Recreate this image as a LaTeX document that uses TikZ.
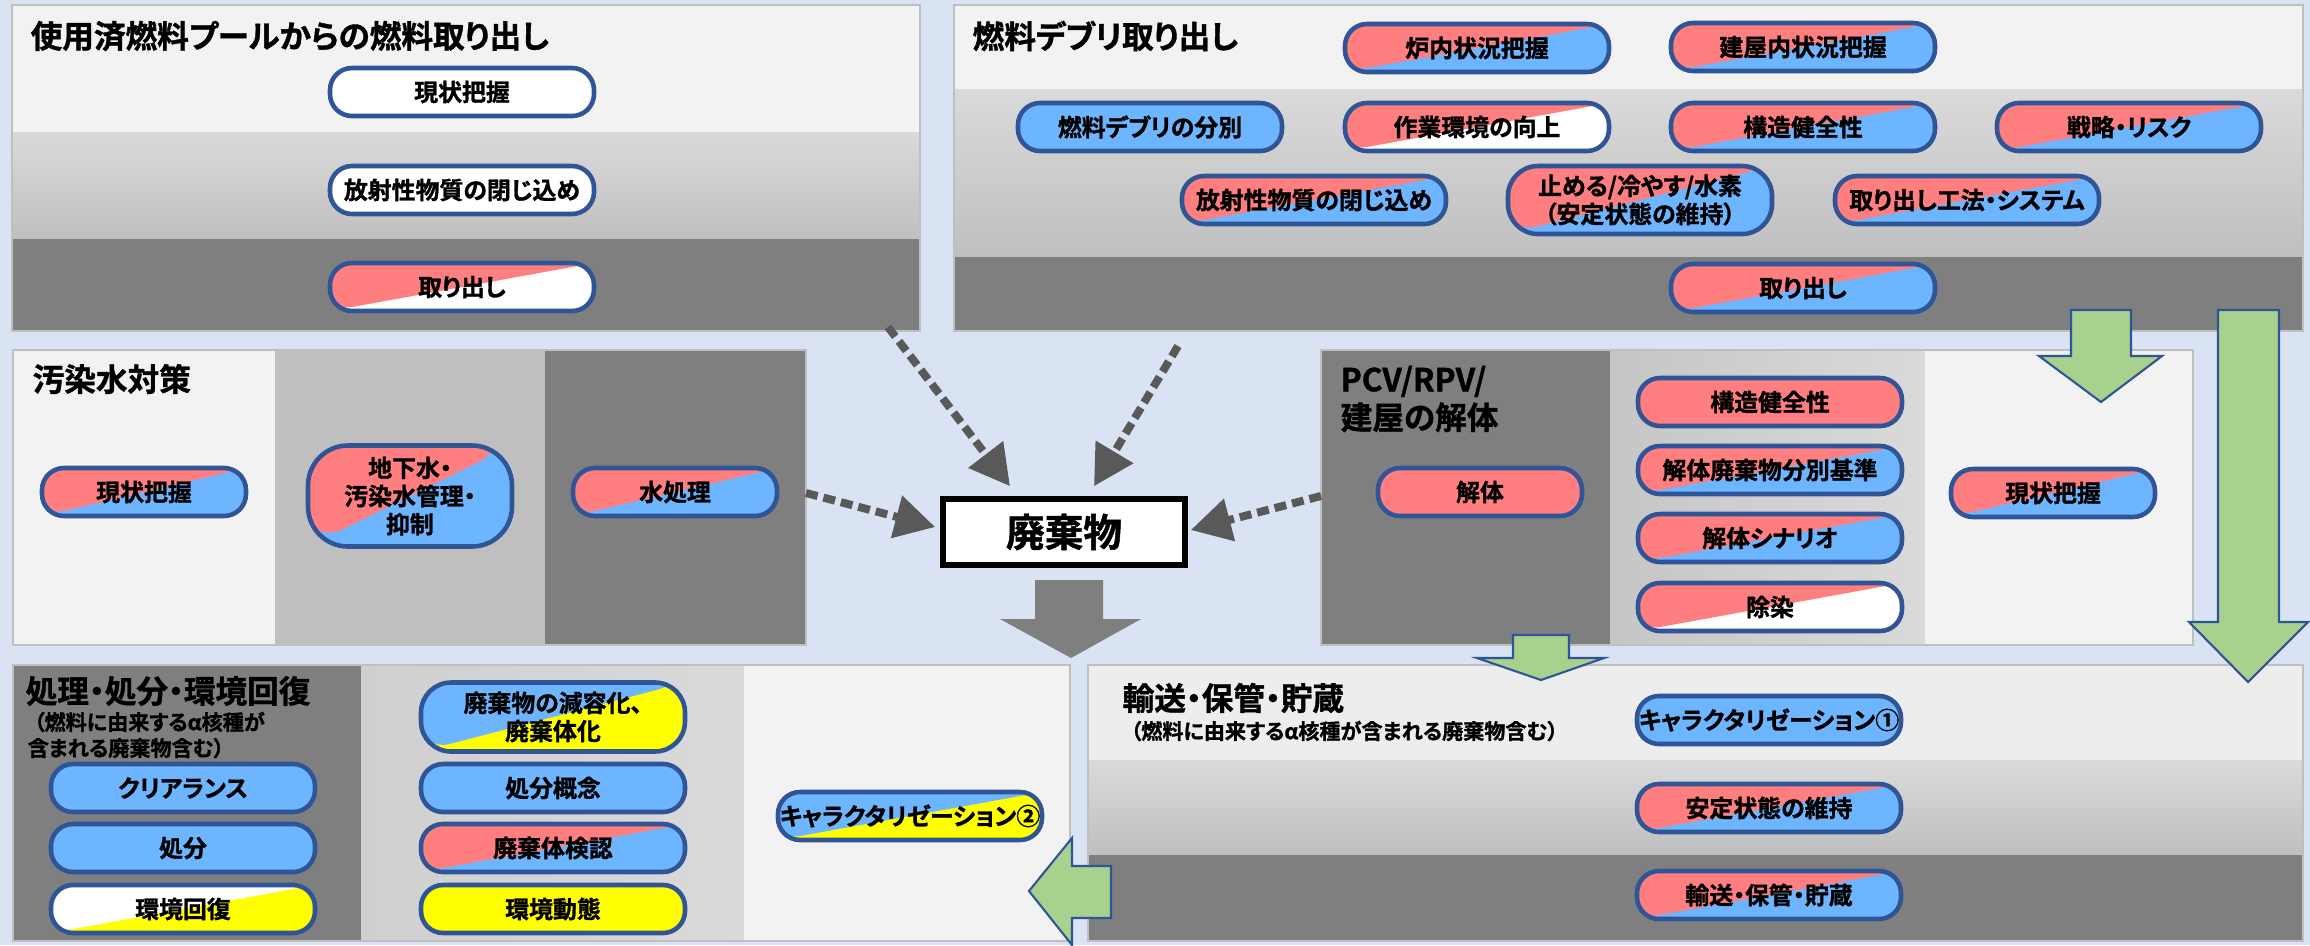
\documentclass[tikz,border=0pt]{standalone}
\usepackage{fontspec}
\setmainfont{Noto Sans CJK JP}[RawFeature=+palt,BoldFont={* Bold},BoldFeatures={FakeBold=1.2}]
\usetikzlibrary{arrows.meta}
\definecolor{bgblue}{HTML}{DAE3F3}
\definecolor{lightband}{HTML}{F2F2F2}
\definecolor{midtop}{HTML}{DADADA}
\definecolor{midbot}{HTML}{BFBFBF}
\definecolor{darkband}{HTML}{7F7F7F}
\definecolor{panelline}{HTML}{BFBFBF}
\definecolor{pinkfill}{HTML}{FF7F80}
\definecolor{bluefill}{HTML}{6EB5FF}
\definecolor{yellowfill}{HTML}{FFFF00}
\definecolor{pilledge}{HTML}{2F5597}
\definecolor{greenfill}{HTML}{A9D18E}
\definecolor{dotgray}{HTML}{595959}
\newcommand{\pilltext}{\fontsize{6.8pt}{8pt}\selectfont\bfseries}
\newcommand{\paneltitle}{\fontsize{9pt}{10.8pt}\selectfont\bfseries}
\newcommand{\panelnote}{\fontsize{6pt}{7.4pt}\selectfont\bfseries}
\tikzset{
	pill/.style={draw=pilledge,line width=1.3pt,rounded corners=2.2mm,minimum width=26.4mm,minimum height=4.8mm,inner sep=0pt,align=center,font=\pilltext},
	narrowpill/.style={pill,minimum width=20.4mm},
	twotone/.style 2 args={path picture={
		\fill[#2] (path picture bounding box.south west) rectangle (path picture bounding box.north east);
		\fill[#1] (path picture bounding box.south west) -- (path picture bounding box.north west) -- (path picture bounding box.north east) -- cycle;}},
	panel/.style={draw=panelline,line width=0.8pt},
	titletext/.style={anchor=west,inner sep=0pt,align=left,font=\paneltitle},
	notetext/.style={anchor=west,inner sep=0pt,align=left,font=\panelnote},
	dotarrow/.style={draw=dotgray,line width=0.8mm,dash pattern=on 1.2mm off 0.6mm,-{Triangle[length=4mm,width=4.2mm]}},
	greenarrow/.style={draw=pilledge,fill=greenfill,line width=0.6pt,line join=miter}
}

\begin{document}
\begin{tikzpicture}[x=0.1mm,y=-0.1mm]
	\useasboundingbox (0,0) rectangle (2310,945);
	\fill[bgblue] (0,0) rectangle (2310,945);

	\fill[lightband] (12,5) rectangle (920,132);
	\shade[top color=midtop,bottom color=midbot] (12,132) rectangle (920,239);
	\fill[darkband] (12,239) rectangle (920,331);
	\draw[panel] (12,5) rectangle (920,331);
	\node[titletext] (pooltitle) at (30,36) {使用済燃料プールからの燃料取り出し};
	\node[pill,fill=white] (poolstate) at (462,92) {現状把握};
	\node[pill,fill=white] (poolseal) at (462,190) {放射性物質の閉じ込め};
	\node[pill,twotone={pinkfill}{white}] (poolout) at (462,287) {取り出し};

	\fill[lightband] (954,5) rectangle (2303,89);
	\shade[top color=midtop,bottom color=midbot] (954,89) rectangle (2303,257);
	\fill[darkband] (954,257) rectangle (2303,331);
	\draw[panel] (954,5) rectangle (2303,331);
	\node[titletext] (debristitle) at (972,36) {燃料デブリ取り出し};
	\node[pill,twotone={pinkfill}{bluefill}] (reactorstate) at (1477,48) {炉内状況把握};
	\node[pill,twotone={pinkfill}{bluefill}] (buildingstate) at (1803,47) {建屋内状況把握};
	\node[pill,fill=bluefill] (debrissort) at (1150,127) {燃料デブリの分別};
	\node[pill,twotone={pinkfill}{white}] (workenv) at (1477,127) {作業環境の向上};
	\node[pill,twotone={pinkfill}{bluefill}] (structure) at (1803,127) {構造健全性};
	\node[pill,twotone={pinkfill}{bluefill}] (strategy) at (2129,127) {戦略・リスク};
	\node[pill,twotone={pinkfill}{bluefill}] (debrisseal) at (1314,200) {放射性物質の閉じ込め};
	\node[pill,twotone={pinkfill}{bluefill},minimum height=6.8mm,rounded corners=3mm] (stable) at (1640,200) {止める/冷やす/水素\\（安定状態の維持）};
	\node[pill,twotone={pinkfill}{bluefill}] (method) at (1967,200) {取り出し工法・システム};
	\node[pill,twotone={pinkfill}{bluefill}] (debrisout) at (1803,288) {取り出し};

	\fill[lightband] (13,350) rectangle (275,645);
	\fill[midbot] (275,350) rectangle (545,645);
	\fill[darkband] (545,350) rectangle (806,645);
	\draw[panel] (13,350) rectangle (806,645);
	\node[titletext] (watertitle) at (32,379) {汚染水対策};
	\node[narrowpill,twotone={pinkfill}{bluefill}] (waterstate) at (144,492) {現状把握};
	\node[narrowpill,twotone={pinkfill}{bluefill},minimum height=10.1mm,rounded corners=4mm] (ground) at (410,496) {地下水・\\汚染水管理・\\抑制};
	\node[narrowpill,twotone={pinkfill}{bluefill}] (treat) at (675,492) {水処理};

	\fill[darkband] (1321,350) rectangle (1610,645);
	\shade[left color=midbot!90!white,right color=midtop] (1610,350) rectangle (1925,645);
	\fill[lightband] (1925,350) rectangle (2193,645);
	\draw[panel] (1321,350) rectangle (2193,645);
	\node[titletext] (pcvtitle) at (1340,399) {PCV/RPV/\\建屋の解体};
	\node[narrowpill,fill=pinkfill] (dismantle) at (1480,492) {解体};
	\node[pill,fill=pinkfill] (pcvstructure) at (1770,402) {構造健全性};
	\node[pill,twotone={pinkfill}{bluefill}] (pcvsort) at (1770,470) {解体廃棄物分別基準};
	\node[pill,twotone={pinkfill}{bluefill}] (scenario) at (1770,538) {解体シナリオ};
	\node[pill,twotone={pinkfill}{white}] (decon) at (1770,607) {除染};
	\node[narrowpill,twotone={pinkfill}{bluefill}] (pcvstate) at (2053,493) {現状把握};

	\fill[darkband] (13,665) rectangle (361,941);
	\shade[left color=midtop!95!black,right color=midtop] (361,665) rectangle (744,941);
	\fill[lightband] (744,665) rectangle (1070,941);
	\draw[panel] (13,665) rectangle (1070,941);
	\node[titletext] (disposetitle) at (25,691) {処理・処分・環境回復};
	\node[notetext] (disposenote) at (27,735) {\hspace{0.3em}（燃料に由来するα核種が\\含まれる廃棄物含む）};
	\node[pill,fill=bluefill] (clearance) at (183,788) {クリアランス};
	\node[pill,fill=bluefill] (dispose) at (183,848) {処分};
	\node[pill,twotone={white}{yellowfill}] (restore) at (183,909) {環境回復};
	\node[pill,twotone={bluefill}{yellowfill},minimum height=6.9mm,rounded corners=3mm] (reduce) at (553,717) {廃棄物の減容化、\\廃棄体化};
	\node[pill,fill=bluefill] (concept) at (553,788) {処分概念};
	\node[pill,twotone={pinkfill}{bluefill}] (inspect) at (553,848) {廃棄体検認};
	\node[pill,fill=yellowfill] (dynamics) at (553,909) {環境動態};
	\node[pill,twotone={bluefill}{yellowfill}] (charatwo) at (910,816) {キャラクタリゼーション②};

	\fill[lightband!98!black] (1088,665) rectangle (2303,760);
	\shade[top color=midtop,bottom color=midbot] (1088,760) rectangle (2303,855);
	\fill[darkband] (1088,855) rectangle (2303,941);
	\draw[panel] (1088,665) rectangle (2303,941);
	\node[titletext] (storetitle) at (1122,698) {輸送・保管・貯蔵};
	\node[notetext] (storenote) at (1130,731) {（燃料に由来するα核種が含まれる廃棄物含む）};
	\node[pill,fill=bluefill] (charaone) at (1769,720) {キャラクタリゼーション①};
	\node[pill,twotone={pinkfill}{bluefill}] (keepstable) at (1769,808) {安定状態の維持};
	\node[pill,twotone={pinkfill}{bluefill}] (store) at (1769,895) {輸送・保管・貯蔵};

	\node[draw=black,fill=white,line width=1.6pt,minimum width=24.2mm,minimum height=6.6mm,font=\fontsize{11pt}{13pt}\selectfont\bfseries] (waste) at (1064,532) {廃棄物};

	\coordinate (poolfoot) at (888,327);
	\coordinate (debrisfoot) at (1178,346);
	\coordinate (waterside) at (806,493);
	\coordinate (pcvside) at (1321,496);
	\draw[dotarrow] (poolfoot) -- ([xshift=-5.4mm,yshift=1mm]waste.north);
	\draw[dotarrow] (debrisfoot) -- ([xshift=3mm,yshift=1mm]waste.north);
	\draw[dotarrow] (waterside) -- ([xshift=-0.5mm,yshift=0.5mm]waste.west);
	\draw[dotarrow] (pcvside) -- ([xshift=0.3mm,yshift=0.2mm]waste.east);

	\fill[darkband] (1035,580) -- (1103,580) -- (1103,619) -- (1141,619) -- (1071,658) -- (1000,619) -- (1035,619) -- cycle;

	\draw[greenarrow] (2071,310) -- (2131,310) -- (2131,356) -- (2162,356) -- (2101,402) -- (2039,356) -- (2071,356) -- cycle;
	\draw[greenarrow] (2218,310) -- (2279,310) -- (2279,622) -- (2308,622) -- (2248,682) -- (2189,622) -- (2218,622) -- cycle;
	\draw[greenarrow] (1513,635) -- (1569,635) -- (1569,658) -- (1604,658) -- (1541,680) -- (1477,658) -- (1513,658) -- cycle;
	\draw[greenarrow] (1111,866) -- (1111,918) -- (1072,918) -- (1072,945) -- (1029,891) -- (1072,838) -- (1072,866) -- cycle;
\end{tikzpicture}
\end{document}
